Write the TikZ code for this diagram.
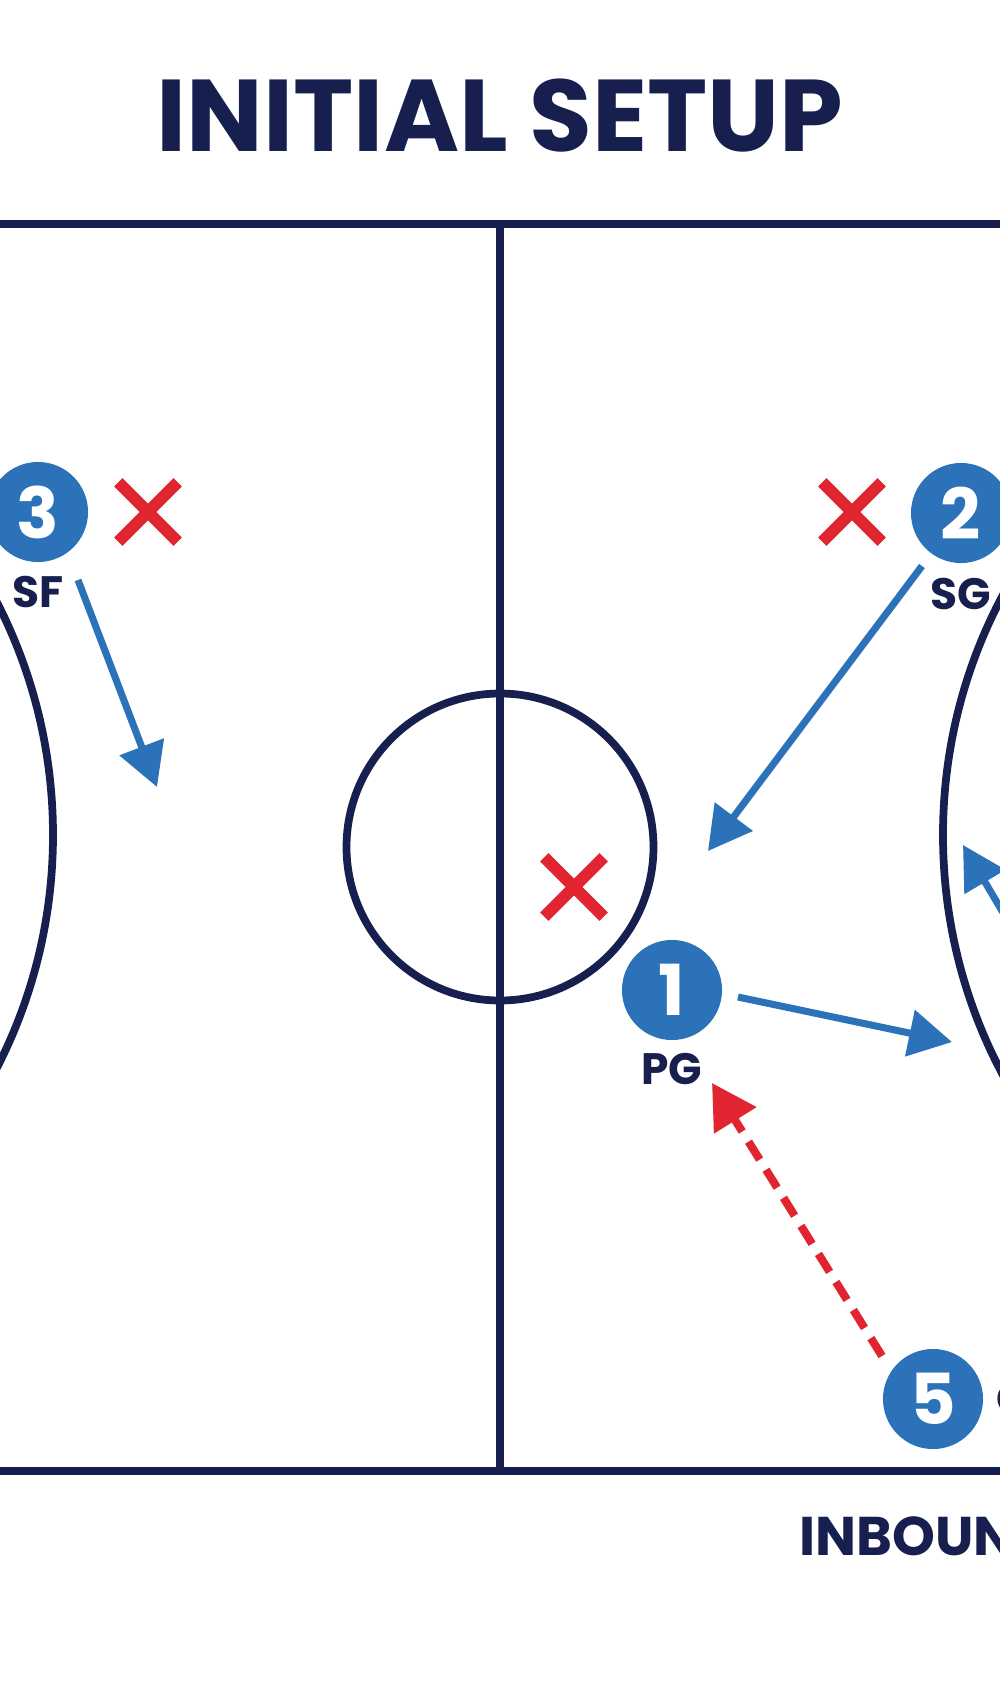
\documentclass[tikz,border=0pt]{standalone}
\usepackage{fontspec}
\setmainfont{Poppins}
\usetikzlibrary{arrows.meta,positioning}

\definecolor{navy}{HTML}{161F4E}
\definecolor{playerblue}{HTML}{2B72B9}
\definecolor{defred}{HTML}{E02530}

\tikzset{
	courtline/.style={navy, line width=2.2pt},
	player/.style={circle, fill=playerblue, minimum size=1cm, inner sep=0pt, text=white, font=\fontsize{20}{20}\selectfont\bfseries},
	role/.style={text=navy, inner sep=0pt, font=\fontsize{12.5}{12.5}\selectfont\bfseries},
	defender/.style={minimum size=0.58cm, inner sep=0pt},
	xmark/.style={defred, line width=3.4pt},
	run/.style={playerblue, line width=2pt, -{Triangle[length=4.3mm, width=4.6mm]}},
	pass/.style={defred, line width=2.3pt, dash pattern=on 6pt off 3.4pt, -{Triangle[length=4.4mm, width=4.8mm]}}
}

\begin{document}
\begin{tikzpicture}[x=0.01cm, y=-0.01cm]
	\clip (0,0) rectangle (1000,1696);
	\fill[white] (0,0) rectangle (1000,1696);
	
	% court
	\draw[courtline] (0,224) -- (1000,224);
	\draw[courtline] (0,1471) -- (1000,1471);
	\draw[courtline] (500,224) -- (500,1471);
	\draw[courtline] (500,847) circle (153.5);
	\draw[courtline] (-457,835) circle (510);
	\draw[courtline] (1453,835) circle (510);
	
	\node[text=navy, inner sep=0pt, font=\fontsize{29}{29}\selectfont\bfseries] (title) at (500,116) {INITIAL SETUP};
	\node[text=navy, inner sep=0pt, anchor=west, font=\fontsize{15.5}{15.5}\selectfont\bfseries] (inbound) at (799,1536) {INBOUND};
	
	% players
	\begin{scope}[every node/.style={player}]
	\node (p1) at (672,990) {1};
	\node (p2) at (961,513) {2};
	\node (p3) at (38,512) {3};
	\node (p5) at (933,1399) {5};
	\end{scope}
	\node[role, below=1.2mm of p1] (pg) {PG};
	\node[role, below=1.4mm of p2] (sg) {SG};
	\node[role, below=1.3mm of p3] (sf) {SF};
	\node[role, right=1.2mm of p5] (c) {C};
	
	% defenders
	\begin{scope}[every node/.style={defender}]
	\node (d1) at (574,887) {};
	\node (d2) at (852,512) {};
	\node (d3) at (148,512) {};
	\end{scope}
	\draw[xmark] (d1.north west) -- (d1.south east) (d1.north east) -- (d1.south west);
	\draw[xmark] (d2.north west) -- (d2.south east) (d2.north east) -- (d2.south west);
	\draw[xmark] (d3.north west) -- (d3.south east) (d3.north east) -- (d3.south west);
	
	% movement
	\coordinate (s1) at (738,997);
	\coordinate (e1) at (952,1042);
	\coordinate (s2) at (922,566);
	\coordinate (e2) at (708,851);
	\coordinate (s3) at (78,580);
	\coordinate (e3) at (157,787);
	\coordinate (s4) at (1030,958);
	\coordinate (e4) at (963,845);
	\coordinate (s5) at (882,1356);
	\coordinate (e5) at (712,1083);
	\draw[run] (s1) -- (e1);
	\draw[run] (s2) -- (e2);
	\draw[run] (s3) -- (e3);
	\draw[run] (s4) -- (e4);
	\draw[pass] (s5) -- (e5);
\end{tikzpicture}
\end{document}
